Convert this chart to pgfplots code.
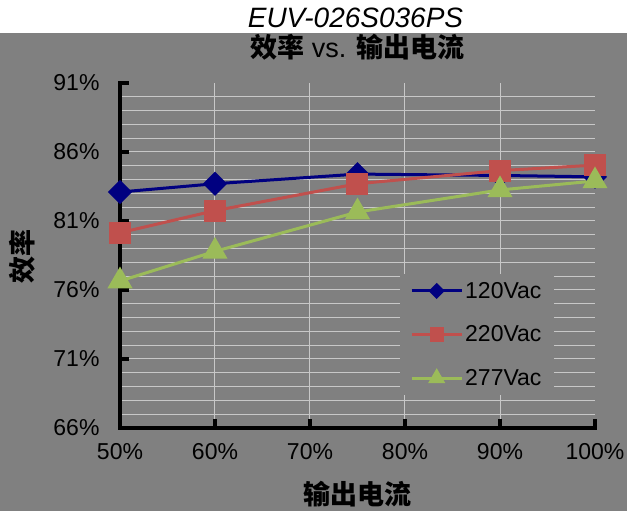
\documentclass[border=0pt]{standalone}
\usepackage{pgfplots}
\pgfplotsset{compat=1.18}
\usepackage{fontspec}
\setmainfont{Liberation Sans}
\newfontfamily\cjk{Noto Sans CJK SC}
\definecolor{bggray}{HTML}{808080}
\definecolor{gridc}{HTML}{C8C8C8}
\definecolor{s120}{HTML}{000080}
\definecolor{s220}{HTML}{C0504D}
\definecolor{s277}{HTML}{9BBB59}
\begin{document}
\begin{tikzpicture}
  % background and white band at the top
  \fill[bggray] (-120pt,-83pt) rectangle (507pt,428pt);
  \fill[white] (-120pt,395pt) rectangle (507pt,428pt);
  \begin{axis}[
      at={(0,0)}, anchor=south west,
      scale only axis,
      width=475pt, height=345pt,
      clip=false,
      xmin=50, xmax=100,
      ymin=66, ymax=91,
      axis x line*=bottom, axis y line*=left,
      axis line style={draw=none},
      tick align=inside,
      major tick length=9pt,
      tick style={draw=none},
      xtick={50,60,...,100},
      ytick={66,71,...,91},
      xticklabel={\pgfmathprintnumber{\tick}\%},
      yticklabel={\pgfmathprintnumber{\tick}\%},
      /pgf/number format/assume math mode=true,
      ticklabel style={font=\fontsize{23}{27}\selectfont, black},
      xticklabel style={yshift=-12pt},
      yticklabel style={xshift=-17pt},
      extra x ticks={60,70,80,90},
      extra x tick labels={},
      extra y ticks={67,68,69,70,72,73,74,75,77,78,79,80,82,83,84,85,87,88,89,90,71,76,81,86},
      extra y tick labels={},
      extra tick style={grid=major, major tick length=0pt},
      major grid style={draw=gridc, line width=1pt},
      title={{\cjk\bfseries 效率} vs. {\cjk\bfseries 输出电流}},
      title style={at={(axis description cs:0.5,1.0855)}, anchor=center,
        font=\fontsize{27}{31}\selectfont},
      xlabel={\cjk\bfseries 输出电流},
      xlabel style={at={(axis description cs:0.5,-0.191)}, anchor=center,
        font=\fontsize{27}{31}\selectfont},
      ylabel={\cjk\bfseries 效率},
      ylabel style={at={(axis description cs:-0.2063,0.4957)}, anchor=center,
        font=\fontsize{27}{31}\selectfont},
      legend style={at={(axis description cs:0.5895,0.4464)}, anchor=north west,
        draw=none, fill=bggray, inner xsep=10pt, inner ysep=6pt,
        font=\fontsize{23}{27}\selectfont, row sep=22pt,
        nodes={inner sep=2pt}},
      legend cell align=left,
      legend image code/.code={
        \draw[mark repeat=2, mark phase=2, #1, every mark/.append style={scale=0.6}]
          plot coordinates {(0pt,0pt) (25pt,0pt) (50pt,0pt)};},
    ]
    % axis frame and tick marks (left and bottom only, ticks pointing inward)
    \draw[black, line width=4pt, line cap=rect]
      (rel axis cs:0,1) -- (rel axis cs:0,0) -- (rel axis cs:1,0);
    \pgfplotsinvokeforeach{71,76,81,86,91}{
      \draw[black, line width=3.5pt] (axis cs:50,#1) -- ++(9pt,0pt);}
    \pgfplotsinvokeforeach{60,70,80,90,100}{
      \draw[black, line width=3.5pt] (axis cs:#1,66) -- ++(0pt,9pt);}
    \addplot[s120, line width=3pt, mark=square*, mark size=7pt,
      mark options={rotate=45, fill=s120, draw=s120}]
      coordinates {(50,83.1) (60,83.7) (75,84.4) (90,84.3) (100,84.2)};
    \addlegendentry{120Vac}
    \addplot[s220, line width=3pt, mark=square*, mark size=9.5pt,
      mark options={fill=s220, draw=s220}]
      coordinates {(50,80.15) (60,81.75) (75,83.7) (90,84.65) (100,85.05)};
    \addlegendentry{220Vac}
    \addplot[s277, line width=3pt, mark=triangle*, mark size=11.5pt,
      mark options={fill=s277, draw=s277}]
      coordinates {(50,76.65) (60,78.8) (75,81.65) (90,83.25) (100,83.9)};
    \addlegendentry{277Vac}
  \end{axis}
  \node[font=\fontsize{28}{32}\selectfont\itshape] at (235.5pt,410pt) {EUV-026S036PS};
  \pgfresetboundingbox
  \path[use as bounding box] (-120pt,-83pt) rectangle (507pt,428pt);
\end{tikzpicture}
\end{document}
